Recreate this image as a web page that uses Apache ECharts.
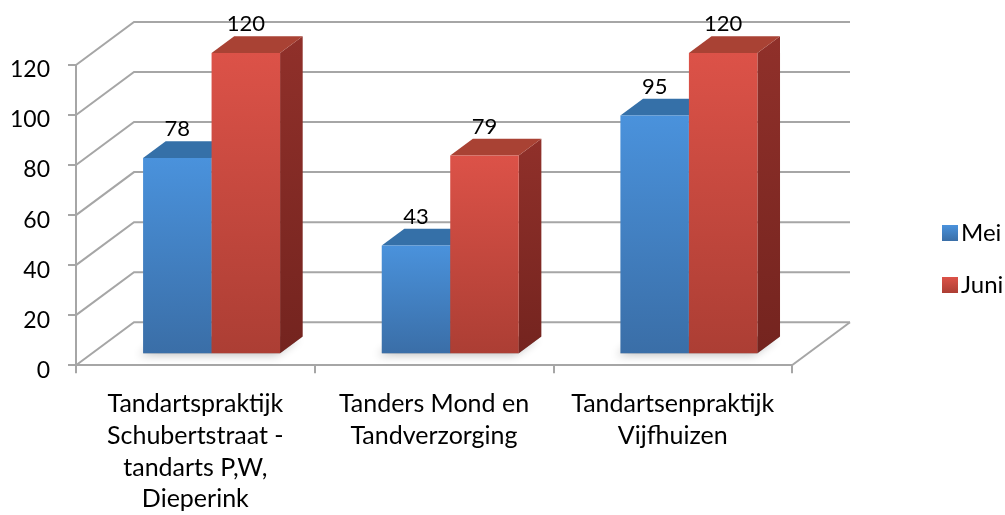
<!DOCTYPE html>
<html>
<head>
<meta charset="utf-8">
<script src="https://cdn.jsdelivr.net/npm/echarts@6/dist/echarts.min.js"></script>
<style>
  html, body { margin: 0; padding: 0; background: #ffffff; }
  #chart { width: 1005px; height: 515px; }
</style>
</head>
<body>
<div id="chart"></div>
<script>
const categories = [
  'Tandartspraktijk\nSchubertstraat -\ntandarts P,W,\nDieperink',
  'Tanders Mond en\nTandverzorging',
  'Tandartsenpraktijk\nVijfhuizen'
];
const seriesNames = ['Mei', 'Juni'];
const meiValues = [78, 43, 95];
const juniValues = [120, 79, 120];
const yTickValues = [0, 20, 40, 60, 80, 100, 120];

// 3D look (pixel depth vector and bar placement within the depth)
const DX = 58, DY = -43;
const F0 = 0.28, F1 = 0.67;
const BAR_W = 0.287;
const FONT = 'Lato';
const FS = 22;
const FS_CAT = 25;
const FS_LEG = 24;
const GRID_COLOR = '#a6a6a6';

const palette = {
  Mei: {
    front: ['#4a92dc', '#3a6ea7'],
    top: '#3570a8',
    side: ['#2f5f90', '#264d76'],
    legend: ['#4a92dc', '#3a6ea7']
  },
  Juni: {
    front: ['#dc5248', '#ac3e34'],
    top: '#a94234',
    side: ['#90302a', '#74241f'],
    legend: ['#dc5248', '#ac3e34']
  }
};

function vgrad(c) {
  return new echarts.graphic.LinearGradient(0, 0, 0, 1, [
    { offset: 0, color: c[0] }, { offset: 1, color: c[1] }
  ]);
}

function barGeom(api, sIdx, cat, val) {
  const c = api.coord([cat, val]);
  const base = api.coord([cat, 0]);
  const band = api.size([1, 0])[0];
  const w = band * BAR_W;
  const xL = c[0] - w + sIdx * w;
  const xR = xL + w;
  return { xL, xR, yT: c[1], yB: base[1] };
}

function makeBarRender(sIdx, pal) {
  return function (params, api) {
    const g = barGeom(api, sIdx, api.value(0), api.value(1));
    const fx0 = DX * F0, fy0 = DY * F0, fx1 = DX * F1, fy1 = DY * F1;
    const front = [[g.xL + fx0, g.yT + fy0], [g.xR + fx0, g.yT + fy0], [g.xR + fx0, g.yB + fy0], [g.xL + fx0, g.yB + fy0]];
    const top = [[g.xL + fx0, g.yT + fy0], [g.xR + fx0, g.yT + fy0], [g.xR + fx1, g.yT + fy1], [g.xL + fx1, g.yT + fy1]];
    const side = [[g.xR + fx0, g.yT + fy0], [g.xR + fx1, g.yT + fy1], [g.xR + fx1, g.yB + fy1], [g.xR + fx0, g.yB + fy0]];
    return {
      type: 'group',
      children: [
        { type: 'polygon', shape: { points: side }, style: { fill: vgrad(pal.side) } },
        { type: 'polygon', shape: { points: top }, style: { fill: pal.top } },
        { type: 'polygon', shape: { points: front }, style: { fill: vgrad(pal.front) } },
        {
          type: 'text',
          style: {
            text: String(api.value(1)),
            x: (g.xL + g.xR) / 2 + fx0,
            y: g.yT + fy1 - 1,
            textAlign: 'center',
            textVerticalAlign: 'bottom',
            fontFamily: FONT,
            fontSize: FS,
            fill: '#000'
          }
        }
      ]
    };
  };
}

function shadowRender(params, api) {
  const cat = api.value(0);
  const a = barGeom(api, 0, cat, 0);
  const b = barGeom(api, 1, cat, 0);
  const fx0 = DX * F0, fy0 = DY * F0, fx1 = DX * F1, fy1 = DY * F1;
  const pts = [[a.xL + fx0, a.yB + fy0], [b.xR + fx0, b.yB + fy0], [b.xR + fx1, b.yB + fy1], [a.xL + fx1, a.yB + fy1]];
  return {
    type: 'polygon',
    shape: { points: pts },
    style: {
      fill: 'rgba(80,80,80,0.55)',
      shadowBlur: 10,
      shadowColor: 'rgba(0,0,0,0.45)',
      shadowOffsetX: -4,
      shadowOffsetY: 2
    }
  };
}

function gridRender(params, api) {
  const cs = params.coordSys;
  const v = api.value(1);
  const y = api.coord([0, v])[1];
  const left = cs.x, right = cs.x + cs.width;
  const children = [{
    type: 'polyline',
    shape: { points: [[left, y], [left + DX, y + DY], [right + DX, y + DY]] },
    style: { stroke: GRID_COLOR, lineWidth: 2, fill: null }
  }];
  if (v === 0) {
    children.push({
      type: 'line',
      shape: { x1: right, y1: y, x2: right + DX, y2: y + DY },
      style: { stroke: GRID_COLOR, lineWidth: 2 }
    });
  }
  return { type: 'group', children };
}

const chart = echarts.init(document.getElementById('chart'), null, { renderer: 'canvas' });

chart.setOption({
  backgroundColor: '#ffffff',
  animation: false,
  textStyle: { fontFamily: FONT },
  grid: { left: 76, right: 213, top: 65, bottom: 145 },
  legend: {
    orient: 'vertical',
    left: 937,
    top: 216,
    itemWidth: 16,
    itemHeight: 16,
    itemGap: 28,
    icon: 'rect',
    data: seriesNames,
    textStyle: { fontFamily: FONT, fontSize: FS_LEG, color: '#000', lineHeight: 24, padding: [0, 0, 0, -2] }
  },
  xAxis: {
    type: 'category',
    data: categories,
    axisLine: { lineStyle: { color: GRID_COLOR, width: 2 } },
    axisTick: { show: true, length: 8, interval: 0, lineStyle: { color: GRID_COLOR, width: 2 } },
    axisLabel: {
      interval: 0,
      margin: 23,
      fontFamily: FONT,
      fontSize: FS_CAT,
      lineHeight: 31.7,
      color: '#000'
    },
    splitLine: { show: false }
  },
  yAxis: {
    type: 'value',
    min: 0,
    max: 120,
    interval: 20,
    axisLine: { show: true, lineStyle: { color: GRID_COLOR, width: 2 } },
    axisTick: { show: true, length: 8, lineStyle: { color: GRID_COLOR, width: 2 } },
    axisLabel: {
      margin: 26,
      color: '#000',
      formatter: '{v|{value}}',
      rich: { v: { fontFamily: FONT, fontSize: FS + 1, color: '#000', padding: [10, 0, 0, 0] } }
    },
    splitLine: { show: false }
  },
  series: [
    {
      type: 'custom',
      name: '_grid',
      renderItem: gridRender,
      data: yTickValues.map(v => [0, v]),
      encode: { x: 0, y: 1 },
      silent: true,
      z: 1
    },
    {
      type: 'custom',
      name: '_shadow',
      renderItem: shadowRender,
      data: categories.map((c, i) => [i, 0]),
      encode: { x: 0, y: 1 },
      silent: true,
      z: 2
    },
    {
      type: 'custom',
      name: 'Mei',
      renderItem: makeBarRender(0, palette.Mei),
      itemStyle: { color: vgrad(palette.Mei.legend) },
      data: meiValues.map((v, i) => [i, v]),
      encode: { x: 0, y: 1 },
      z: 3
    },
    {
      type: 'custom',
      name: 'Juni',
      renderItem: makeBarRender(1, palette.Juni),
      itemStyle: { color: vgrad(palette.Juni.legend) },
      data: juniValues.map((v, i) => [i, v]),
      encode: { x: 0, y: 1 },
      z: 4
    }
  ]
});
</script>
</body>
</html>
